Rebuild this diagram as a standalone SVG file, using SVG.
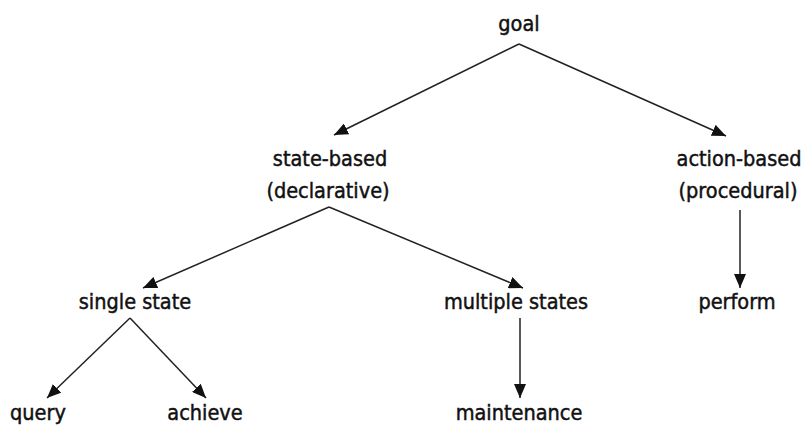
<svg xmlns="http://www.w3.org/2000/svg" width="804" height="425" viewBox="0 0 804 425">
  <style>
    .lbl { font-family: "DejaVu Sans Condensed", "Liberation Sans Narrow", "DejaVu Sans", sans-serif; font-size: 21.5px; fill: #111; stroke: #111; stroke-width: 0.45; text-anchor: middle; }
    .edge { stroke: #222; stroke-width: 1.5; fill: none; marker-end: url(#arrow); }
  </style>
  <defs>
    <marker id="arrow" viewBox="0 0 14 12" refX="14" refY="6" markerWidth="14" markerHeight="12" markerUnits="userSpaceOnUse" orient="auto">
      <path d="M0,0 L14,6 L0,12 Z" fill="#111"/>
    </marker>
  </defs>

  <rect width="804" height="425" fill="#fff"/>

  <g id="connectors">
    <path class="edge" d="M519,44 L334,135"/>
    <path class="edge" d="M519,44 L726,136"/>
    <path class="edge" d="M329,207 L143,288"/>
    <path class="edge" d="M329,207 L523,288"/>
    <path class="edge" d="M740,210 L740,288"/>
    <path class="edge" d="M520,318 L520,398"/>
    <path class="edge" d="M130,318 L47,398"/>
    <path class="edge" d="M130,318 L206,398"/>
  </g>

  <g id="goal"><text class="lbl" x="519" y="31">goal</text></g>
  <g id="state-based">
    <text class="lbl" x="330" y="166">state-based</text>
    <text class="lbl" x="328" y="198">(declarative)</text>
  </g>
  <g id="action-based">
    <text class="lbl" x="739" y="166">action-based</text>
    <text class="lbl" x="738" y="198">(procedural)</text>
  </g>
  <g id="single-state"><text class="lbl" x="135" y="309">single state</text></g>
  <g id="multiple-states"><text class="lbl" x="516" y="309">multiple states</text></g>
  <g id="perform"><text class="lbl" x="737" y="309">perform</text></g>
  <g id="query"><text class="lbl" x="38" y="420">query</text></g>
  <g id="achieve"><text class="lbl" x="205" y="420">achieve</text></g>
  <g id="maintenance"><text class="lbl" x="519" y="420">maintenance</text></g>
</svg>
